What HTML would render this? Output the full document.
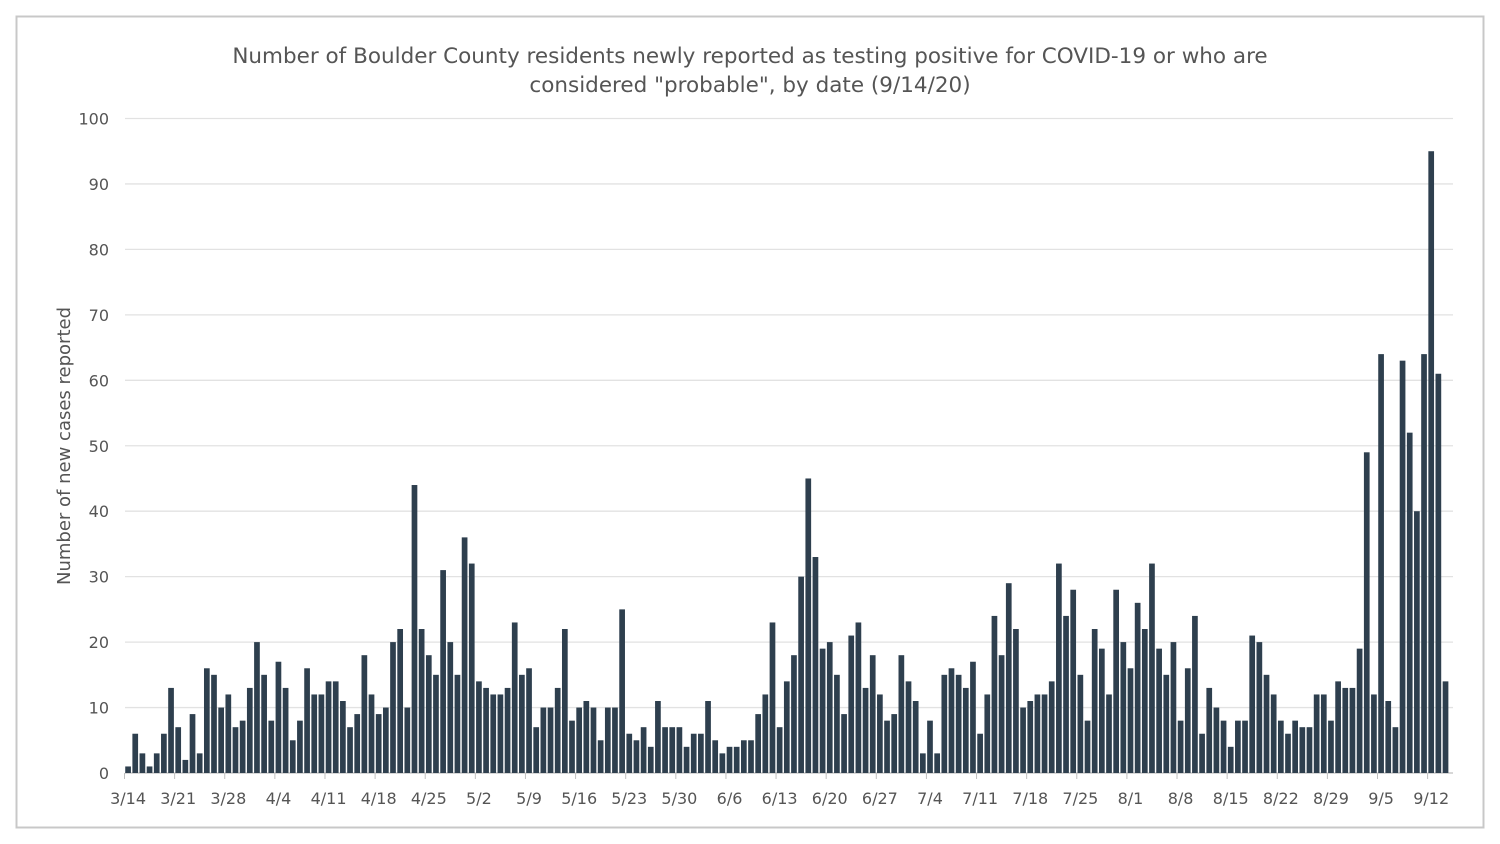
<!DOCTYPE html>
<html><head><meta charset="utf-8"><style>
html,body{margin:0;padding:0;background:#fff;}
svg{display:block;font-family:"DejaVu Sans","Liberation Sans",sans-serif;}
</style></head><body>
<svg id="chart" width="1500" height="844" viewBox="0 0 1500 844" xmlns="http://www.w3.org/2000/svg">
<rect x="16.5" y="16.5" width="1467" height="811" fill="#fff" stroke="#c8c8c8" stroke-width="2"/>
<g fill="#555" font-size="21.5" text-anchor="middle">
<text x="750" y="63">Number of Boulder County residents newly reported as testing positive for COVID-19 or who are</text>
<text x="750" y="92">considered "probable", by date (9/14/20)</text>
</g>
<text transform="translate(70,446) rotate(-90)" text-anchor="middle" font-size="18" fill="#555">Number of new cases reported</text>
<g id="grid"></g>
<g id="yticks"></g>
<g id="bars"></g>
<g id="xticks"></g>
</svg>
<script>
const values = [1,6,3,1,3,6,13,7,2,9,
3,16,15,10,12,7,8,13,20,15,
8,17,13,5,8,16,12,12,14,14,
11,7,9,18,12,9,10,20,22,10,
44,22,18,15,31,20,15,36,32,14,
13,12,12,13,23,15,16,7,10,10,
13,22,8,10,11,10,5,10,10,25,
6,5,7,4,11,7,7,7,4,6,
6,11,5,3,4,4,5,5,9,12,
23,7,14,18,30,45,33,19,20,15,
9,21,23,13,18,12,8,9,18,14,
11,3,8,3,15,16,15,13,17,6,
12,24,18,29,22,10,11,12,12,14,
32,24,28,15,8,22,19,12,28,20,
16,26,22,32,19,15,20,8,16,24,
6,13,10,8,4,8,8,21,20,15,
12,8,6,8,7,7,12,12,8,14,
13,13,19,49,12,64,11,7,63,52,
40,64,95,61,14];
const yTicks = [0,10,20,30,40,50,60,70,80,90,100];
const xTickLabels = ["3/14","3/21","3/28","4/4","4/11","4/18","4/25","5/2","5/9","5/16","5/23","5/30","6/6","6/13","6/20","6/27","7/4","7/11","7/18","7/25","8/1","8/8","8/15","8/22","8/29","9/5","9/12"];

const NS = "http://www.w3.org/2000/svg";
const x0 = 124.5, step = 7.16, plotRight = 1453;
const y = v => 773 - v * 6.545;
const xc = i => x0 + step * (i + 0.5);
function mk(tag, attrs, parent){const e=document.createElementNS(NS,tag);for(const k in attrs)e.setAttribute(k,attrs[k]);parent.appendChild(e);return e;}

const grid=document.getElementById('grid'), yt=document.getElementById('yticks'), bars=document.getElementById('bars'), xt=document.getElementById('xticks');
yTicks.forEach(t=>{
  const l=mk('line',{x1:125,x2:plotRight,y1:y(t),y2:y(t),stroke:t===0?'#bfbfbf':'#e2e2e2','stroke-width':1.3},grid);
  
  
  const tx=mk('text',{x:109,y:y(t)+6,'text-anchor':'end','font-size':16,fill:'#555'},yt);
  tx.textContent=t;
  
  
});
values.forEach((v,i)=>{
  const r=mk('rect',{x:xc(i)-2.85,y:y(v),width:5.7,height:y(0)-y(v),fill:'#2e3f4e'},bars);
  
  
});
xTickLabels.forEach((lab,k)=>{
  const i=k*7;
  const tm=mk('line',{x1:xc(i)-step/2,x2:xc(i)-step/2,y1:773,y2:779,stroke:'#bfbfbf','stroke-width':1},xt);
  
  
  const tx=mk('text',{x:xc(i),y:804,'text-anchor':'middle','font-size':16,fill:'#555'},xt);
  tx.textContent=lab;
  
  
});
</script>
</body></html>
